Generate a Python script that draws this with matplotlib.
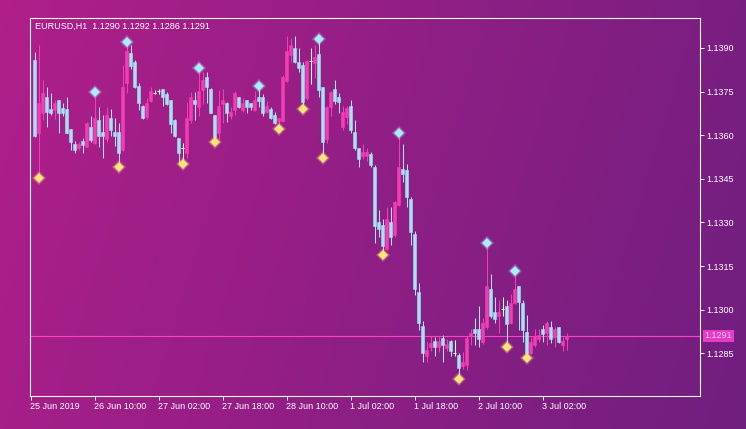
import numpy as np
import matplotlib
matplotlib.use('Agg')
import matplotlib.pyplot as plt
import matplotlib.transforms as mtransforms

# EURUSD H1 bars, 25 Jun 19:00 .. 3 Jul 2019
opens = [1.13859, 1.13607, 1.13675, 1.13732, 1.13690, 1.13687, 1.13721, 1.13692, 1.13689, 1.13620,
         1.13569, 1.13555, 1.13580, 1.13560, 1.13629, 1.13572, 1.13652, 1.13612, 1.13586, 1.13658,
         1.13612, 1.13612, 1.13549, 1.13778, 1.13882, 1.13853, 1.13769, 1.13700, 1.13662, 1.13719,
         1.13744, 1.13752, 1.13758, 1.13742, 1.13721, 1.13652, 1.13592, 1.13555, 1.13538, 1.13652,
         1.13721, 1.13696, 1.13755, 1.13799, 1.13758, 1.13669, 1.13606, 1.13707, 1.13712, 1.13666,
         1.13687, 1.13732, 1.13687, 1.13721, 1.13710, 1.13687, 1.13732, 1.13732, 1.13681, 1.13689,
         1.13669, 1.13650, 1.13650, 1.13787, 1.13876, 1.13899, 1.13853, 1.13841, 1.13727, 1.13856,
         1.13847, 1.13879, 1.13767, 1.13586, 1.13696, 1.13758, 1.13732, 1.13629, 1.13664, 1.13700,
         1.13612, 1.13555, 1.13528, 1.13528, 1.13535, 1.13492, 1.13302, 1.13291, 1.13207, 1.13302,
         1.13257, 1.13360, 1.13483, 1.13480, 1.13379, 1.13260, 1.13062, 1.12944, 1.12840, 1.12870,
         1.12893, 1.12870, 1.12901, 1.12867, 1.12893, 1.12852, 1.12844, 1.12806, 1.12809, 1.12909,
         1.12932, 1.12932, 1.12889, 1.12941, 1.13070, 1.12993, 1.12978, 1.13001, 1.13012, 1.12955,
         1.13024, 1.13081, 1.13024, 1.12924, 1.12852, 1.12878, 1.12898, 1.12932, 1.12918, 1.12941,
         1.12907, 1.12941, 1.12878, 1.12900]
highs = [1.13887, 1.13910, 1.13790, 1.13767, 1.13744, 1.13721, 1.13721, 1.13710, 1.13732, 1.13620,
         1.13580, 1.13578, 1.13592, 1.13645, 1.13666, 1.13742, 1.13698, 1.13669, 1.13698, 1.13689,
         1.13658, 1.13641, 1.13841, 1.13915, 1.13910, 1.13859, 1.13780, 1.13703, 1.13727, 1.13767,
         1.13755, 1.13758, 1.13758, 1.13750, 1.13721, 1.13654, 1.13592, 1.13572, 1.13715, 1.13750,
         1.13750, 1.13824, 1.13818, 1.13818, 1.13761, 1.13669, 1.13755, 1.13758, 1.13715, 1.13696,
         1.13753, 1.13732, 1.13727, 1.13721, 1.13712, 1.13753, 1.13762, 1.13742, 1.13719, 1.13698,
         1.13681, 1.13659, 1.13807, 1.13941, 1.13933, 1.13941, 1.13899, 1.13853, 1.13858, 1.13899,
         1.13910, 1.13924, 1.13767, 1.13700, 1.13753, 1.13790, 1.13745, 1.13700, 1.13700, 1.13721,
         1.13652, 1.13555, 1.13570, 1.13555, 1.13543, 1.13497, 1.13343, 1.13311, 1.13354, 1.13354,
         1.13373, 1.13601, 1.13570, 1.13501, 1.13388, 1.13271, 1.13090, 1.12962, 1.12889, 1.12909,
         1.12907, 1.12907, 1.12913, 1.12898, 1.12895, 1.12895, 1.12852, 1.12855, 1.12909, 1.12932,
         1.12970, 1.13012, 1.12970, 1.13222, 1.13122, 1.13044, 1.13033, 1.13042, 1.13033, 1.13054,
         1.13126, 1.13083, 1.13033, 1.12981, 1.12907, 1.12932, 1.12932, 1.12947, 1.12962, 1.12962,
         1.12941, 1.12941, 1.12905, 1.12920]
lows = [1.13594, 1.13460, 1.13652, 1.13629, 1.13669, 1.13655, 1.13609, 1.13666, 1.13606, 1.13549,
        1.13540, 1.13549, 1.13539, 1.13559, 1.13578, 1.13570, 1.13558, 1.13520, 1.13578, 1.13597,
        1.13563, 1.13497, 1.13547, 1.13744, 1.13827, 1.13762, 1.13687, 1.13655, 1.13655, 1.13715,
        1.13742, 1.13742, 1.13700, 1.13704, 1.13609, 1.13595, 1.13503, 1.13508, 1.13520, 1.13643,
        1.13652, 1.13666, 1.13707, 1.13710, 1.13675, 1.13583, 1.13586, 1.13641, 1.13646, 1.13655,
        1.13669, 1.13692, 1.13681, 1.13677, 1.13687, 1.13684, 1.13698, 1.13666, 1.13675, 1.13655,
        1.13638, 1.13628, 1.13646, 1.13784, 1.13853, 1.13847, 1.13818, 1.13698, 1.13721, 1.13776,
        1.13796, 1.13732, 1.13528, 1.13572, 1.13666, 1.13707, 1.13677, 1.13618, 1.13638, 1.13609,
        1.13549, 1.13490, 1.13517, 1.13512, 1.13490, 1.13230, 1.13251, 1.13195, 1.13205, 1.13222,
        1.13251, 1.13358, 1.13440, 1.13352, 1.13222, 1.13050, 1.12930, 1.12821, 1.12821, 1.12859,
        1.12840, 1.12855, 1.12821, 1.12859, 1.12840, 1.12840, 1.12769, 1.12795, 1.12792, 1.12878,
        1.12878, 1.12870, 1.12882, 1.12932, 1.12970, 1.12955, 1.12921, 1.12978, 1.12878, 1.12950,
        1.13019, 1.12930, 1.12889, 1.12840, 1.12847, 1.12870, 1.12889, 1.12889, 1.12878, 1.12886,
        1.12870, 1.12886, 1.12859, 1.12860]
closes = [1.13597, 1.13712, 1.13744, 1.13681, 1.13677, 1.13712, 1.13677, 1.13675, 1.13609, 1.13578,
          1.13549, 1.13569, 1.13566, 1.13641, 1.13583, 1.13658, 1.13597, 1.13597, 1.13669, 1.13618,
          1.13597, 1.13540, 1.13767, 1.13891, 1.13838, 1.13767, 1.13710, 1.13658, 1.13712, 1.13753,
          1.13744, 1.13752, 1.13732, 1.13707, 1.13638, 1.13597, 1.13540, 1.13555, 1.13658, 1.13732,
          1.13707, 1.13753, 1.13790, 1.13765, 1.13677, 1.13595, 1.13700, 1.13721, 1.13675, 1.13681,
          1.13744, 1.13698, 1.13710, 1.13696, 1.13696, 1.13721, 1.13719, 1.13677, 1.13700, 1.13658,
          1.13641, 1.13658, 1.13801, 1.13891, 1.13910, 1.13853, 1.13830, 1.13715, 1.13856, 1.13856,
          1.13870, 1.13755, 1.13578, 1.13696, 1.13750, 1.13719, 1.13715, 1.13681, 1.13692, 1.13618,
          1.13555, 1.13517, 1.13543, 1.13543, 1.13497, 1.13288, 1.13276, 1.13219, 1.13311, 1.13251,
          1.13371, 1.13492, 1.13466, 1.13388, 1.13268, 1.13070, 1.12953, 1.12852, 1.12861, 1.12884,
          1.12870, 1.12893, 1.12878, 1.12882, 1.12859, 1.12852, 1.12798, 1.12821, 1.12901, 1.12921,
          1.12918, 1.12898, 1.12953, 1.13081, 1.12978, 1.12967, 1.12993, 1.13001, 1.12950, 1.13024,
          1.13070, 1.13027, 1.12930, 1.12850, 1.12889, 1.12909, 1.12913, 1.12916, 1.12955, 1.12898,
          1.12932, 1.12889, 1.12893, 1.12910]

# fractal bars (upper / lower)
up_fractals = [15, 23, 41, 56, 71, 91, 113, 120]
down_fractals = [1, 21, 37, 45, 61, 67, 72, 87, 106, 118, 123]

last_price = 1.1291
title = 'EURUSD,H1  1.1290 1.1292 1.1286 1.1291'

xtick_bars = [-1, 15, 31, 47, 63, 79, 95, 111, 127]
xtick_labels = ['25 Jun 2019', '26 Jun 10:00', '27 Jun 02:00', '27 Jun 18:00', '28 Jun 10:00',
                '1 Jul 02:00', '1 Jul 18:00', '2 Jul 10:00', '3 Jul 02:00']
yticks = [1.1285, 1.1300, 1.1315, 1.1330, 1.1345, 1.1360, 1.1375, 1.1390]

BULL = '#f43cb4'
BEAR = '#a4e2f4'
UPF = '#a8ecff'
DNF = '#ffe27a'

plt.rcParams['font.family'] = ['Liberation Sans', 'DejaVu Sans']

W, H = 746, 429
fig = plt.figure(figsize=(W / 100, H / 100), dpi=100)

# gradient background
bg = fig.add_axes([0, 0, 1, 1])
bg.axis('off')
xx, yy = np.meshgrid(np.linspace(0, 1, W), np.linspace(0, 1, H))
t = 0.85 * xx + 0.15 * yy
c0 = np.array([176, 30, 138]) / 255.0
c1 = np.array([112, 30, 128]) / 255.0
img = c0 + (c1 - c0) * t[..., None]
bg.imshow(img, aspect='auto', extent=[0, 1, 0, 1], origin='upper')

ax = fig.add_axes([30 / W, 33 / H, 670 / W, 378 / H])
ax.set_facecolor('none')

o = np.array(opens)
h = np.array(highs)
l = np.array(lows)
c = np.array(closes)
idx = np.arange(len(o))
bull = c > o
bear = c < o
doji = c == o

for mask, col in ((bull, BULL), (bear, BEAR), (doji, 'white')):
    ax.vlines(idx[mask], l[mask], h[mask], color=col, lw=0.75, zorder=2)

ax.bar(idx[bull], c[bull] - o[bull], bottom=o[bull], width=0.72,
       color=BULL, edgecolor=BULL, linewidth=0.4, zorder=3)
ax.bar(idx[bear], o[bear] - c[bear], bottom=c[bear], width=0.72,
       color=BEAR, edgecolor=BEAR, linewidth=0.4, zorder=3)
ax.hlines(o[doji], idx[doji] - 0.45, idx[doji] + 0.45, color='white', lw=0.75, zorder=3)

# fractal diamonds, nudged off the extreme a little
up_tr = mtransforms.offset_copy(ax.transData, fig=fig, x=0, y=2, units='dots')
dn_tr = mtransforms.offset_copy(ax.transData, fig=fig, x=0, y=-2, units='dots')
ax.plot(up_fractals, h[up_fractals], 'D', ms=7.5, color=UPF, alpha=0.3, mew=0, transform=up_tr, zorder=4)
ax.plot(up_fractals, h[up_fractals], 'D', ms=5, color=UPF, mew=0, transform=up_tr, zorder=5)
ax.plot(down_fractals, l[down_fractals], 'D', ms=7.5, color=DNF, alpha=0.3, mew=0, transform=dn_tr, zorder=4)
ax.plot(down_fractals, l[down_fractals], 'D', ms=5, color=DNF, mew=0, transform=dn_tr, zorder=5)

# last price line and tag
ax.axhline(last_price, color='#ff40c8', lw=0.8, zorder=1)
ax.annotate('%.4f' % last_price, xy=(1, last_price), xycoords=('axes fraction', 'data'),
            xytext=(3.2, 0), textcoords='offset points', va='center', ha='left',
            fontsize=6.5, color='#ffc4f2',
            bbox=dict(boxstyle='square,pad=0.2', fc='#e43cc4', ec='none'))

ax.set_xlim(-1.125, 166.375)
ax.set_ylim(1.12703, 1.14003)

ax.yaxis.tick_right()
ax.set_yticks(yticks)
ax.set_yticklabels(['%.4f' % v for v in yticks])
ax.set_xticks(xtick_bars)
ax.set_xticklabels(xtick_labels)
for lbl in ax.get_xticklabels():
    lbl.set_horizontalalignment('left')

ax.tick_params(colors='white', labelcolor='white', labelsize=6.5, length=3, width=0.7, pad=1.5)
for sp in ax.spines.values():
    sp.set_color('white')
    sp.set_linewidth(0.8)

fig.text(35 / W, 1 - 26.5 / H, title, color='white', fontsize=6.5, va='center', ha='left')

fig.savefig('out.png', dpi=100)
